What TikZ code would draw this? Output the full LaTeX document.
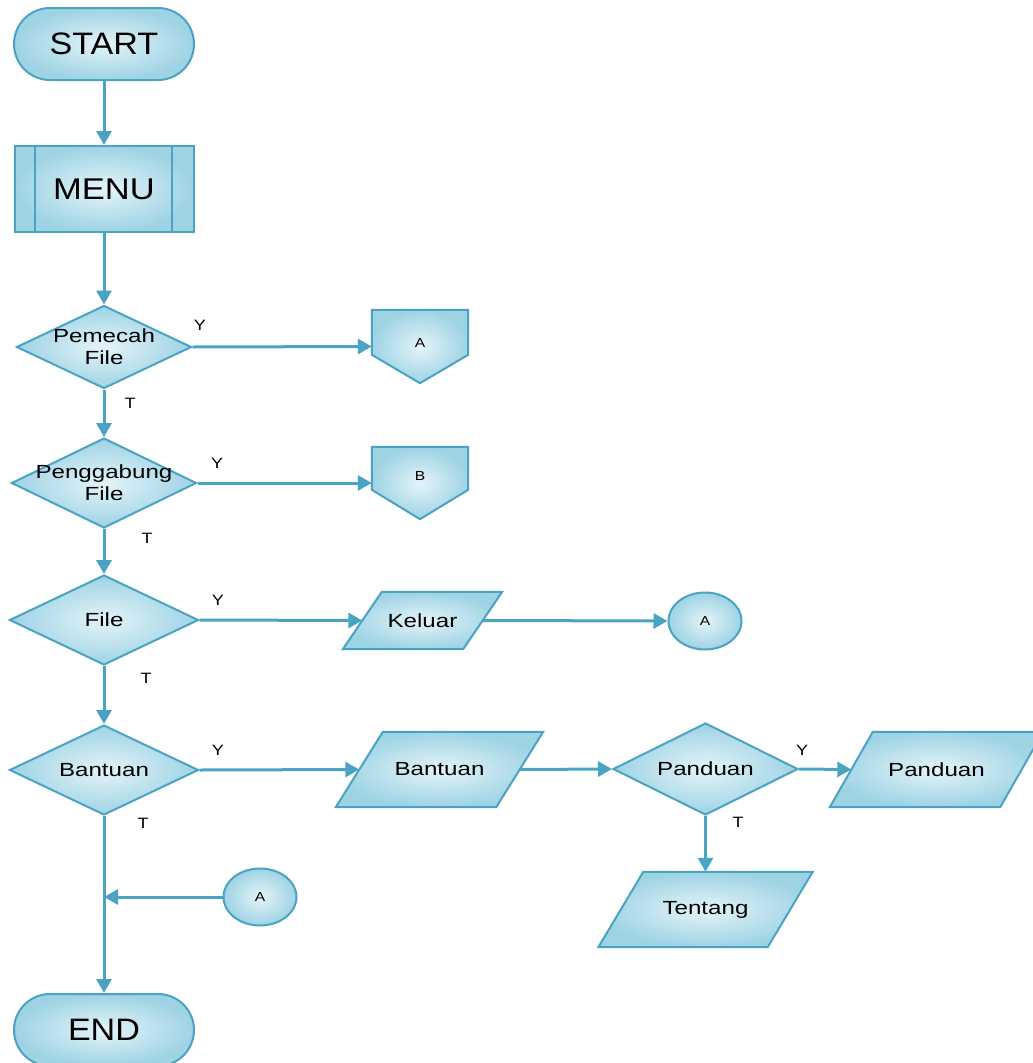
\documentclass[tikz,border=0pt]{standalone}
\usepackage{fontspec}
\setmainfont{Liberation Sans}
\usetikzlibrary{shapes.geometric,arrows.meta,calc,backgrounds}
\definecolor{lc}{HTML}{4AA3C3}
\definecolor{fo}{HTML}{9ED3E4}
\definecolor{fi}{HTML}{E4F4F9}
\newcommand\hstr[2][1.27]{\scalebox{#1}[1]{#2}}
\begin{document}
\begin{tikzpicture}[x=1pt,y=-1pt,
  shp/.style={draw=lc, line width=2pt, inner color=fi, outer color=fo, inner sep=0pt},
  term/.style={shp, rectangle, rounded corners=36pt, minimum width=180pt, minimum height=72pt, font=\fontsize{31}{31}\selectfont},
  proc/.style={shp, rectangle, minimum width=179pt, minimum height=86pt, font=\fontsize{30}{30}\selectfont},
  dec/.style={shp, diamond},
  dlab/.style={align=center, font=\fontsize{19}{22}\selectfont, inner sep=0pt},
  boxn/.style={rectangle, draw=none, inner sep=0pt, font=\fontsize{19}{22}\selectfont},
  conn/.style={shp, ellipse, minimum width=73pt, minimum height=57pt, font=\fontsize{13}{13}\selectfont},
  small/.style={font=\fontsize{13}{13}\selectfont, inner sep=0pt},
  yt/.style={font=\fontsize{15}{15}\selectfont, inner sep=0pt},
  flow/.style={draw=lc, line width=3pt, -{Triangle[length=14pt,width=15pt]}},
  inl/.style={draw=lc, line width=2pt}
]
\clip (0,0) rectangle (1033,1063);
\useasboundingbox (0,0) rectangle (1033,1063);

% main column
\node[term] (start) at (104,44) {\hstr[1.1]{START}};
\node[proc] (menu) at (104,189) {\hstr[1.15]{MENU}};
\draw[inl] ([xshift=21pt]menu.north west) -- ([xshift=21pt]menu.south west);
\draw[inl] ([xshift=-23pt]menu.north east) -- ([xshift=-23pt]menu.south east);

\node[dec, minimum width=175pt, minimum height=83pt,
  label={[dlab]center:{\hstr{Pemecah}\\\hstr{File}}}] (d1) at (104,347) {};
\node[dec, minimum width=185pt, minimum height=90pt,
  label={[dlab]center:{\hstr{Penggabung}\\\hstr{File}}}] (d2) at (104,483) {};
\node[dec, minimum width=189pt, minimum height=90pt,
  label={[dlab]center:{\hstr{File}}}] (d3) at (104,620) {};
\node[dec, minimum width=189pt, minimum height=90pt,
  label={[dlab]center:{\hstr{Bantuan}}}] (d4) at (104,770) {};
\node[term] (end) at (104,1030) {\hstr[1.1]{END}};

% off-page connectors
\node[boxn, minimum width=96pt, minimum height=73pt,
  label={[small,yshift=3.5pt]center:\hstr[1.2]{A}}] (offA) at (420,346.5) {};
\node[boxn, minimum width=96pt, minimum height=72pt,
  label={[small,yshift=7pt]center:\hstr[1.2]{B}}] (offB) at (420,483) {};

% parallelograms
\node[boxn, minimum width=159pt, minimum height=57pt] (keluar) at (422.5,620.5) {\hstr{Keluar}};
\node[boxn, minimum width=207pt, minimum height=75pt] (bantP) at (439.5,769.5) {\hstr{Bantuan}};
\node[boxn, minimum width=213pt, minimum height=75pt] (pandP) at (936.5,769.5) {\hstr{Panduan}};
\node[boxn, minimum width=214pt, minimum height=75pt] (tent) at (705.5,909.5) {\hstr{Tentang}};

\node[dec, minimum width=185pt, minimum height=92pt,
  label={[dlab]center:{\hstr{Panduan}}}] (d5) at (705.5,769) {};

% circle connectors
\node[conn] (a1) at (705,621) {\hstr[1.2]{A}};
\node[conn] (a2) at (260,897) {\hstr[1.2]{A}};

\begin{scope}[on background layer]
\path[shp] (offA.north west) -- (offA.north east) -- ([yshift=-45pt]offA.north east) -- (offA.south) -- ([yshift=-45pt]offA.north west) -- cycle;
\path[shp] (offB.north west) -- (offB.north east) -- ([yshift=-43pt]offB.north east) -- (offB.south) -- ([yshift=-43pt]offB.north west) -- cycle;
\path[shp] (keluar.south west) -- ([xshift=39pt]keluar.north west) -- (keluar.north east) -- ([xshift=-39pt]keluar.south east) -- cycle;
\path[shp] (bantP.south west) -- ([xshift=47pt]bantP.north west) -- (bantP.north east) -- ([xshift=-47pt]bantP.south east) -- cycle;
\path[shp] (pandP.south west) -- ([xshift=43pt]pandP.north west) -- (pandP.north east) -- ([xshift=-43pt]pandP.south east) -- cycle;
\path[shp] (tent.south west) -- ([xshift=45pt]tent.north west) -- (tent.north east) -- ([xshift=-45pt]tent.south east) -- cycle;
\end{scope}

% Y / T labels
\node[yt] (y1) at (200,325) {\hstr[1.2]{Y}};
\node[yt] (t1) at (130,403) {\hstr[1.2]{T}};
\node[yt] (y2) at (217,463) {\hstr[1.2]{Y}};
\node[yt] (t2) at (147,538) {\hstr[1.2]{T}};
\node[yt] (y3) at (218,600) {\hstr[1.2]{Y}};
\node[yt] (t3) at (146,678) {\hstr[1.2]{T}};
\node[yt] (y4) at (218,750) {\hstr[1.2]{Y}};
\node[yt] (t4) at (143,823) {\hstr[1.2]{T}};
\node[yt] (y5) at (802,750) {\hstr[1.2]{Y}};
\node[yt] (t5) at (738,822) {\hstr[1.2]{T}};

% connectors
\draw[flow] (start.south) -- (menu.north);
\draw[flow] (menu.south) -- (d1.north);
\draw[flow] (d1.south) -- (d2.north);
\draw[flow] (d2.south) -- (d3.north);
\draw[flow] (d3.south) -- (d4.north);
\draw[flow] (d4.south) -- (end.north);
\draw[flow] (d1.east) -- (offA.west);
\draw[flow] (d2.east) -- (offB.west);
\draw[flow] (d3.east) -- ([xshift=19.5pt]keluar.west);
\draw[flow] ([xshift=-19.5pt]keluar.east) -- (a1.west);
\draw[flow] (d4.east) -- ([xshift=23.5pt]bantP.west);
\draw[flow] ([xshift=-23.5pt]bantP.east) -- (d5.west);
\draw[flow] (d5.east) -- ([xshift=21.5pt]pandP.west);
\draw[flow] (d5.south) -- (tent.north);
\draw[flow] (a2.west) -- (d4.south |- a2.west);
\end{tikzpicture}
\end{document}
